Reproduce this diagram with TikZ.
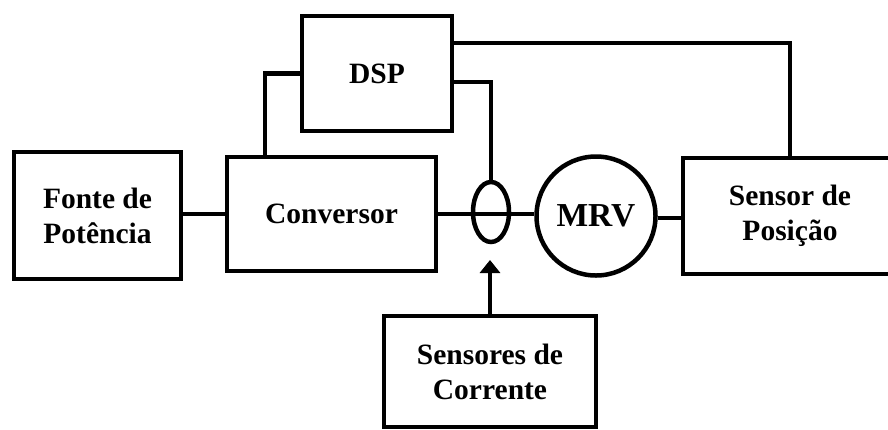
\documentclass[tikz,border=0pt]{standalone}
\usepackage{fontspec}
\setmainfont{Liberation Serif}
\usetikzlibrary{shapes.geometric,arrows.meta}
\begin{document}
\begin{tikzpicture}[x=1pt,y=-1pt,
  wire/.style={line width=4.5pt},
  blk/.style={draw,line width=4.5pt,rectangle,inner sep=0pt,align=center,
    font=\fontsize{29.5}{35}\selectfont\bfseries},
]
\useasboundingbox (0,0) rectangle (888,429);
\clip (0,0) rectangle (888,429);
\node[blk,minimum width=167pt,minimum height=127pt] (fonte) at (97.5,215.5) {Fonte de\\Potência};
\node[blk,minimum width=209pt,minimum height=114pt] (conv) at (331.5,214) {Conversor};
\node[blk,minimum width=150pt,minimum height=115pt] (dsp) at (377,73.5) {DSP};
\node[blk,minimum width=214pt,minimum height=116pt] (pos) at (790,216) {Sensor de\\Posição};
\node[blk,minimum width=212pt,minimum height=111pt] (corr) at (490,371.5) {Sensores de\\Corrente};
\node[draw,circle,line width=4.5pt,inner sep=0pt,minimum size=119pt,
  font=\fontsize{33.5}{38}\selectfont\bfseries] (mrv) at (596,216) {MRV};
\node[draw,ellipse,line width=4.5pt,inner sep=0pt,minimum width=36pt,minimum height=60pt] (cs) at (491,212) {};
\coordinate (tip) at (490,260);
\draw[wire] (fonte.east |- conv.west) -- (conv.west);
\draw[wire] (conv.east) -- (conv.east -| mrv.west);
\draw[wire] ([yshift=-2pt]mrv.east) -- ([yshift=-2pt]mrv.east -| pos.west);
\draw[wire] ([xshift=40pt]conv.north west) |- (dsp.west);
\draw[wire] ([yshift=-8.5pt]dsp.east) -| (cs.north);
\draw[wire] (pos.north) |- ([yshift=30.5pt]dsp.east);
\draw[wire,-{Triangle[width=20pt,length=13pt]}] (corr.north) -- (corr.north |- tip);
\end{tikzpicture}
\end{document}
